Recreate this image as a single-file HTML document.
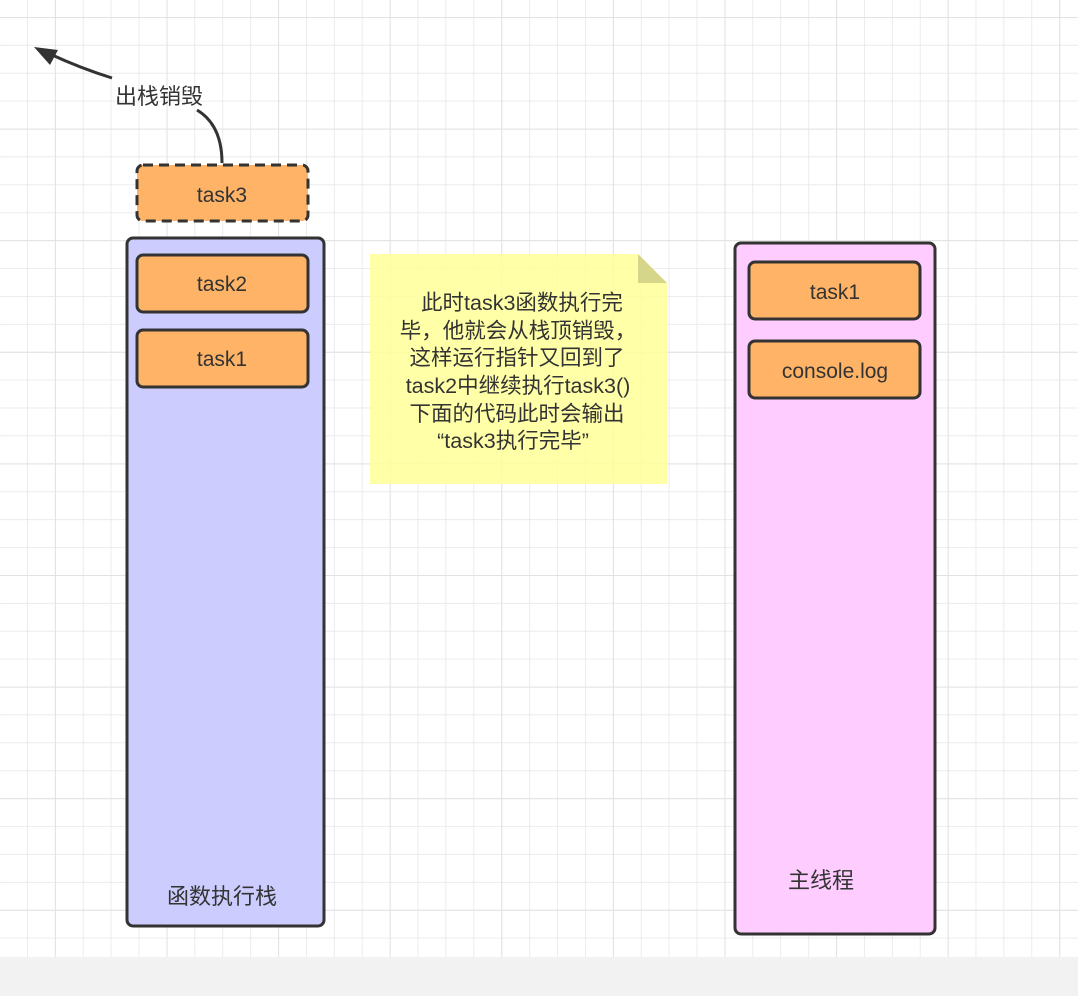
<!DOCTYPE html>
<html><head><meta charset="utf-8"><style>
html,body{margin:0;padding:0;background:#fff}
svg{display:block}
text{font-family:"Liberation Sans","Noto Sans CJK SC",sans-serif;fill:#333}
</style></head><body>
<svg width="1078" height="996" viewBox="0 0 1078 996" xmlns="http://www.w3.org/2000/svg">
<defs>
<pattern id="g" x="27" y="17" width="27.9" height="27.9" patternUnits="userSpaceOnUse">
<path d="M0 0V27.9M0 0H27.9" stroke="#e6e6e6" stroke-width="1.5" fill="none"/>
</pattern>
<pattern id="G" x="54.9" y="17" width="111.6" height="111.6" patternUnits="userSpaceOnUse">
<path d="M0 0V111.6M0 0H111.6" stroke="#e2e2e2" stroke-width="2" fill="none"/>
</pattern>
</defs>
<rect width="1078" height="957" fill="url(#g)"/>
<rect width="1078" height="957" fill="url(#G)"/>
<rect y="957" width="1078" height="39" fill="#f2f2f2"/>

<path d="M112 78 Q80 68 50 54" stroke="#333" stroke-width="3" fill="none"/>
<polygon points="34,47 58,50 50,65" fill="#333"/>
<text x="159" y="104" font-size="22" text-anchor="middle">出栈销毁</text>
<path d="M222 163 Q222 125 197 110" stroke="#333" stroke-width="3" fill="none"/>

<rect x="127" y="238" width="197" height="688" rx="6" fill="#ccccff" stroke="#333" stroke-width="3"/>
<rect x="137" y="165" width="171" height="56" rx="6" fill="#ffb366" stroke="#333" stroke-width="3" stroke-dasharray="10 6"/>
<text x="222" y="202" font-size="21" text-anchor="middle">task3</text>
<rect x="137" y="255" width="171" height="57" rx="6" fill="#ffb366" stroke="#333" stroke-width="3"/>
<text x="222" y="291" font-size="21" text-anchor="middle">task2</text>
<rect x="137" y="330" width="171" height="57" rx="6" fill="#ffb366" stroke="#333" stroke-width="3"/>
<text x="222" y="366" font-size="21" text-anchor="middle">task1</text>
<text x="222" y="904" font-size="22" text-anchor="middle">函数执行栈</text>

<rect x="735" y="243" width="200" height="691" rx="6" fill="#ffccff" stroke="#333" stroke-width="3"/>
<rect x="749" y="262" width="171" height="57" rx="6" fill="#ffb366" stroke="#333" stroke-width="3"/>
<text x="835" y="299" font-size="21" text-anchor="middle">task1</text>
<rect x="749" y="341" width="171" height="57" rx="6" fill="#ffb366" stroke="#333" stroke-width="3"/>
<text x="835" y="378" font-size="21" text-anchor="middle">console.log</text>
<text x="821" y="888" font-size="22" text-anchor="middle">主线程</text>

<polygon points="370,254 638,254 667,283 667,484 370,484" fill="#ffff99" opacity="0.85"/>
<polygon points="638,254 667,283 638,283" fill="#d6d68a"/>
<g font-size="21.5" text-anchor="middle">
<text x="522" y="310">此时task3函数执行完</text>
<text x="518" y="338">毕，他就会从栈顶销毁，</text>
<text x="517" y="365">这样运行指针又回到了</text>
<text x="518" y="393">task2中继续执行task3()</text>
<text x="517" y="421">下面的代码此时会输出</text>
<text x="513" y="448">“task3执行完毕”</text>
</g>
</svg>
</body></html>
